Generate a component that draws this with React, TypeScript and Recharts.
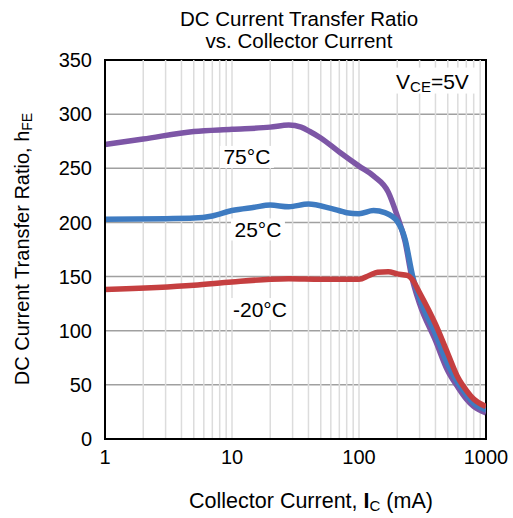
import React from "react";
import {
  LineChart,
  Line,
  XAxis,
  YAxis,
  CartesianGrid,
  ReferenceLine,
  ReferenceArea,
  ReferenceDot,
} from "recharts";

const FONT = "'Liberation Sans', Arial, sans-serif";

// Collector current (mA) and hFE for each temperature
const current75 = [1, 2, 5, 10, 20, 28, 35, 41, 50, 70, 100, 130, 170, 200, 230, 260, 300, 400, 500, 600, 700, 800, 1000];
const hfe75 = [272, 277, 284, 286, 288, 290, 288, 284, 278, 265, 252, 243, 228, 206, 183, 150, 125, 91, 63, 48, 37, 30, 24];

const current25 = [1, 3, 5, 7, 10, 15, 20, 28, 40, 60, 80, 100, 130, 160, 200, 230, 265, 300, 400, 500, 600, 700, 800, 1000];
const hfe25 = [203, 203.5, 204, 206, 211, 214, 216, 214.5, 217, 213, 209, 208, 211, 209, 201, 185, 150, 130, 97, 69, 52, 41, 33, 27];

const currentM20 = [1, 5, 10, 20, 28, 50, 100, 120, 140, 170, 200, 240, 260, 300, 400, 500, 600, 700, 800, 1000];
const hfeM20 = [138, 142, 145, 147.5, 148, 147.5, 147.5, 151, 154, 154.5, 152.5, 151, 148, 135, 106, 79, 57, 45, 37, 30];

const xTicks = [1, 10, 100, 1000];
const yTicks = [0, 50, 100, 150, 200, 250, 300, 350];
const minorX = [2, 3, 4, 5, 6, 7, 8, 9, 10, 20, 30, 40, 50, 60, 70, 80, 90, 100, 200, 300, 400, 500, 600, 700, 800, 900];

const toData = (xs: number[], ys: number[]) => xs.map((x, i) => ({ x, y: ys[i] }));
const data75 = toData(current75, hfe75);
const data25 = toData(current25, hfe25);
const dataM20 = toData(currentM20, hfeM20);

// label anchors (data coordinates)
const labels = [
  { x: 13.1, y: 260.5, text: "75°C", w: 54 },
  { x: 16, y: 193.5, text: "25°C", w: 54 },
  { x: 16.6, y: 120, text: "-20°C", w: 60 },
];
const vceAnchor = { x: 383, y: 331 };

const TempLabel = (text: string, w: number) => (props: any) => {
  const { cx, cy } = props;
  return (
    <g>
      <rect x={cx - w / 2} y={cy - 11} width={w} height={22} fill="#fff" />
      <text
        x={cx}
        y={cy + 7.5}
        textAnchor="middle"
        fontFamily={FONT}
        fontSize={21}
        fill="#000"
      >
        {text}
      </text>
    </g>
  );
};

const VceLabel = (props: any) => {
  const { cx, cy } = props;
  return (
    <g>
      <rect x={cx - 42} y={cy - 13} width={84} height={26} fill="#fff" />
      <text x={cx - 37} y={cy + 8} fontFamily={FONT} fontSize={21} fill="#000">
        V
        <tspan fontSize={15} dy={3}>CE</tspan>
        <tspan dy={-3}>=5V</tspan>
      </text>
    </g>
  );
};

export default function App() {
  return (
    <div style={{ position: "absolute", left: 0, top: 0, width: 513, height: 518, background: "#fff" }}>
      <LineChart
        width={513}
        height={518}
        margin={{ top: 60, right: 27, bottom: 49, left: 45 }}
      >
        <CartesianGrid vertical={false} stroke="#a0a0a0" strokeWidth={1.5} />
        {minorX.map((v) => (
          <ReferenceLine key={v} x={v} stroke="#dcdcdc" strokeWidth={1.5} />
        ))}
        <XAxis
          type="number"
          dataKey="x"
          scale="log"
          domain={[1, 1000]}
          ticks={xTicks}
          allowDataOverflow
          tickLine={false}
          tickSize={0}
          tickMargin={11}
          axisLine={{ stroke: "#000", strokeWidth: 2 }}
          tick={{ fill: "#000", fontSize: 20, fontFamily: FONT }}
          height={30}
        />
        <YAxis
          type="number"
          dataKey="y"
          domain={[0, 350]}
          ticks={yTicks}
          tickLine={false}
          tickSize={0}
          tickMargin={13}
          axisLine={{ stroke: "#000", strokeWidth: 2 }}
          tick={{ fill: "#000", fontSize: 20, fontFamily: FONT }}
          width={60}
        />
        <Line
          data={data75}
          dataKey="y"
          type="monotone"
          stroke="#7d56a6"
          strokeWidth={5.5}
          dot={false}
          isAnimationActive={false}
        />
        <Line
          data={data25}
          dataKey="y"
          type="monotone"
          stroke="#3e7bc1"
          strokeWidth={5.5}
          dot={false}
          isAnimationActive={false}
        />
        <Line
          data={dataM20}
          dataKey="y"
          type="monotone"
          stroke="#c53f40"
          strokeWidth={5.5}
          dot={false}
          isAnimationActive={false}
        />
        <ReferenceArea
          x1={1}
          x2={1000}
          y1={0}
          y2={350}
          fill="none"
          fillOpacity={0}
          stroke="#000"
          strokeWidth={2}
        />
        {labels.map((l) => (
          <ReferenceDot key={l.text} x={l.x} y={l.y} r={0} shape={TempLabel(l.text, l.w)} />
        ))}
        <ReferenceDot x={vceAnchor.x} y={vceAnchor.y} r={0} shape={VceLabel} />
      </LineChart>
      <svg
        width={513}
        height={518}
        style={{ position: "absolute", left: 0, top: 0, pointerEvents: "none" }}
      >
        <text x={299} y={26} textAnchor="middle" fontFamily={FONT} fontSize={20.5} fill="#000">
          DC Current Transfer Ratio
        </text>
        <text x={299} y={48} textAnchor="middle" fontFamily={FONT} fontSize={20.5} fill="#000">
          vs. Collector Current
        </text>
        <text x={311} y={508} textAnchor="middle" fontFamily={FONT} fontSize={21.5} fill="#000">
          Collector Current,{" "}
          <tspan fontWeight="bold">I</tspan>
          <tspan fontSize={15} dy={3}>C</tspan>
          <tspan dy={-3}> (mA)</tspan>
        </text>
        <text
          x={0}
          y={0}
          transform="translate(29,249) rotate(-90)"
          textAnchor="middle"
          fontFamily={FONT}
          fontSize={20}
          fill="#000"
        >
          DC Current Transfer Ratio, h
          <tspan fontSize={14} dy={3}>FE</tspan>
        </text>
      </svg>
    </div>
  );
}
